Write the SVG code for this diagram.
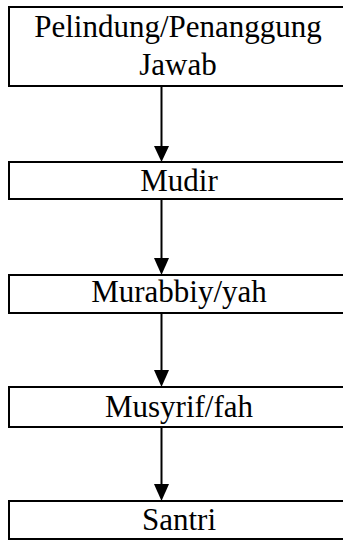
<svg xmlns="http://www.w3.org/2000/svg" width="343" height="540" viewBox="0 0 343 540">
<style>
.box{fill:#fff;stroke:#000;stroke-width:2}
.t{font-family:"Liberation Serif","Times New Roman",serif;font-size:31px;fill:#000;text-anchor:middle}
.ln{stroke:#000;stroke-width:2;fill:none}
.hd{fill:#000}
</style>
<rect width="343" height="540" fill="#fff"/>
<g id="connectors">
<line class="ln" x1="161.5" y1="87" x2="161.5" y2="150"/><polygon class="hd" points="154,146 169,146 161.5,162"/>
<line class="ln" x1="161.5" y1="200" x2="161.5" y2="262"/><polygon class="hd" points="154,258 169,258 161.5,275"/>
<line class="ln" x1="161.5" y1="314" x2="161.5" y2="374"/><polygon class="hd" points="154,370 169,370 161.5,387"/>
<line class="ln" x1="161.5" y1="428" x2="161.5" y2="488"/><polygon class="hd" points="154,484 169,484 161.5,501"/>
</g>
<g id="n1"><rect class="box" x="9" y="7" width="342" height="79"/><text class="t" x="178" y="37">Pelindung/Penanggung</text><text class="t" x="178" y="75">Jawab</text></g>
<g id="n2"><rect class="box" x="9" y="162" width="342" height="37"/><text class="t" x="179" y="191">Mudir</text></g>
<g id="n3"><rect class="box" x="9" y="275" width="342" height="38"/><text class="t" x="179" y="302">Murabbiy/yah</text></g>
<g id="n4"><rect class="box" x="9" y="387" width="342" height="40"/><text class="t" x="179" y="417">Musyrif/fah</text></g>
<g id="n5"><rect class="box" x="9" y="501" width="342" height="38"/><text class="t" x="179" y="530">Santri</text></g>
</svg>
